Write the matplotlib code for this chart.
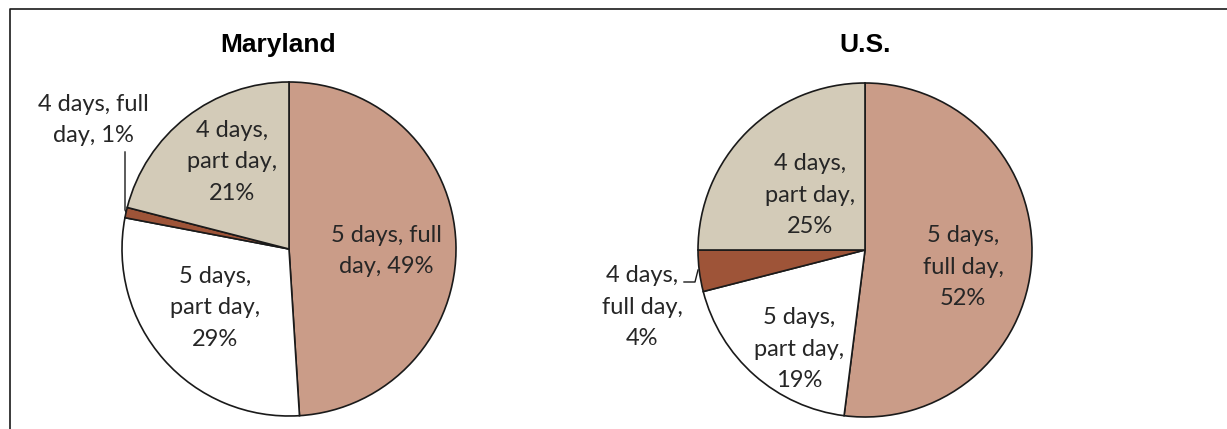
import matplotlib.pyplot as plt

labels = ["5 days, full day", "5 days, part day", "4 days, full day", "4 days, part day"]
maryland = [49, 29, 1, 21]
us = [52, 19, 4, 25]
colors = ["#CA9C88", "#FFFFFF", "#9E5438", "#D3CBB8"]

W, H = 1227, 429

fig = plt.figure(figsize=(12.27, 4.29), dpi=100)
ax = fig.add_axes([0, 0, 1, 1])


def py(y):
    # pixel row -> data y
    return H - y


wedge_style = dict(edgecolor="#1a1a1a", linewidth=1.2)

ax.pie(maryland, colors=colors, startangle=90, counterclock=False,
       center=(289, py(249)), radius=167, wedgeprops=wedge_style,
       frame=True)
ax.pie(us, colors=colors, startangle=90, counterclock=False,
       center=(865, py(250)), radius=167, wedgeprops=wedge_style,
       frame=True)
ax.set_xlim(0, W)
ax.set_ylim(0, H)
ax.set_aspect("equal")
ax.axis("off")

tfont = dict(family="Liberation Sans", fontsize=19, fontweight="bold", color="black",
             ha="center", va="center")
ax.text(278, py(45), "Maryland", **tfont)
ax.text(865, py(45), "U.S.", **tfont)

lfont = dict(family="Lato", fontsize=17, color="#262626", ha="center", va="center",
             linespacing=1.6)

# Maryland labels
ax.text(386, py(251), f"5 days, full\nday, {maryland[0]}%", **lfont)
ax.text(215, py(308), f"5 days,\npart day,\n{maryland[1]}%", **lfont)
ax.text(232, py(162), f"4 days,\npart day,\n{maryland[3]}%", **lfont)
ax.text(93, py(120), f"4 days, full\nday, {maryland[2]}%", **lfont)
ax.plot([125, 125, 126], [py(152), py(210), py(212)], color="#1a1a1a", lw=1.0)

# U.S. labels
ax.text(963, py(267), f"5 days,\nfull day,\n{us[0]}%", **lfont)
ax.text(810, py(195), f"4 days,\npart day,\n{us[3]}%", **lfont)
ax.text(799, py(349), f"5 days,\npart day,\n{us[1]}%", **lfont)
ax.text(642, py(307), f"4 days,\nfull day,\n{us[2]}%", **lfont)
ax.plot([684, 695, 698], [py(282), py(282), py(270)], color="#1a1a1a", lw=1.0)

# outer frame
ax.plot([9.5, 9.5, W + 5], [-5, py(9), py(9)], color="#1a1a1a", lw=1.2, clip_on=False)

fig.savefig("out.png", dpi=100)
